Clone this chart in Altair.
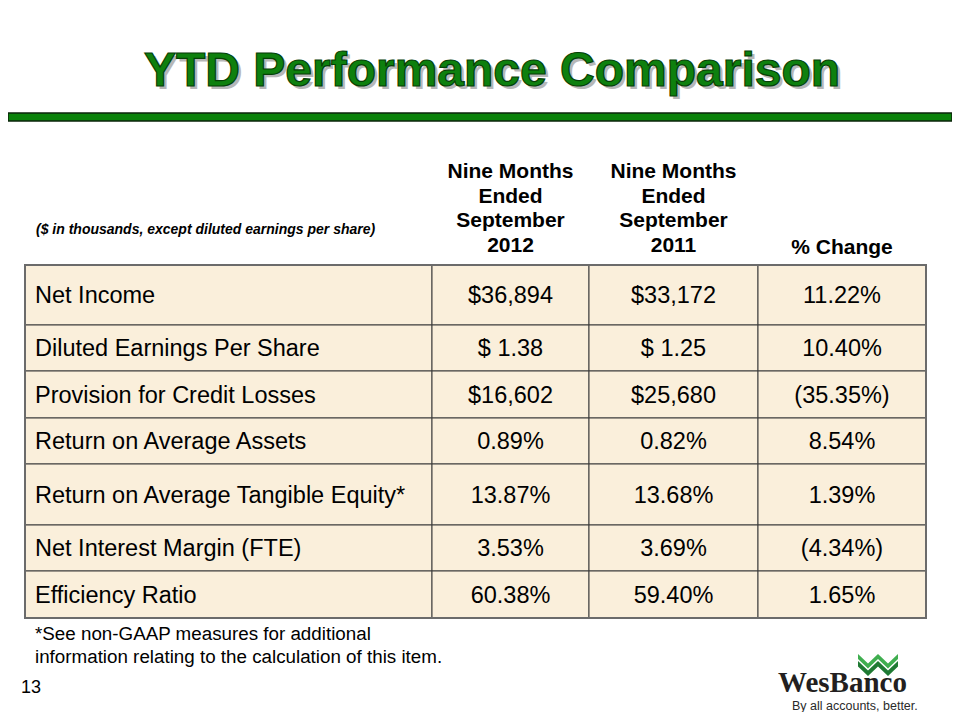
import altair as alt
import pandas as pd

# ---------------- data ----------------
row_labels = [
    "Net Income",
    "Diluted Earnings Per Share",
    "Provision for Credit Losses",
    "Return on Average Assets",
    "Return on Average Tangible Equity*",
    "Net Interest Margin (FTE)",
    "Efficiency Ratio",
]
sep_2012 = ["$36,894", "$ 1.38", "$16,602", "0.89%", "13.87%", "3.53%", "60.38%"]
sep_2011 = ["$33,172", "$ 1.25", "$25,680", "0.82%", "13.68%", "3.69%", "59.40%"]
pct_change = ["11.22%", "10.40%", "(35.35%)", "8.54%", "1.39%", "(4.34%)", "1.65%"]
column_headers = [
    "Nine Months\nEnded\nSeptember\n2012",
    "Nine Months\nEnded\nSeptember\n2011",
    "% Change",
]

title_text = "YTD Performance Comparison"
units_note = "($ in thousands, except diluted earnings per share)"
footnote = "*See non-GAAP measures for additional\ninformation relating to the calculation of this item."
page_number = "13"
logo_name = "WesBanco"
logo_tagline = "By all accounts, better."

# ---------------- layout (page pixel coordinates) ----------------
W, H, M = 960, 720, 8
col_edges = [25, 432, 589, 758, 926]
row_edges = [265, 325, 371, 418, 464, 525, 571, 618]
header_first_line_y = [172, 172, 248]

FONT = "Liberation Sans, Arial, Helvetica, sans-serif"
SERIF = "Liberation Serif, Times New Roman, serif"

xs = alt.Scale(domain=[M, W - M], nice=False, zero=False)
ys = alt.Scale(domain=[M, H - M], nice=False, zero=False, reverse=True)


def X(f):
    return alt.X(f, type="quantitative", scale=xs, axis=None)


def Y(f):
    return alt.Y(f, type="quantitative", scale=ys, axis=None)


# ---------------- tables ----------------
cells = []
for i, lab in enumerate(row_labels):
    vals = [lab, sep_2012[i], sep_2011[i], pct_change[i]]
    for j, v in enumerate(vals):
        cells.append(dict(
            x=col_edges[j], x2=col_edges[j + 1],
            y=row_edges[i], y2=row_edges[i + 1],
            xm=(col_edges[j] + col_edges[j + 1]) / 2,
            xl=col_edges[j] + 10,
            ym=(row_edges[i] + row_edges[i + 1]) / 2 + 1,
            text=v, col=j,
        ))
cells = pd.DataFrame(cells)

headers = pd.DataFrame(dict(
    text=column_headers,
    xm=[(col_edges[j] + col_edges[j + 1]) / 2 for j in range(1, 4)],
    ym=header_first_line_y,
))

border = pd.DataFrame([dict(x=col_edges[0], x2=col_edges[-1], y=row_edges[0], y2=row_edges[-1])])

base = alt.Chart(cells)

cell_rect = base.mark_rect(fill="#FAEFDB", stroke="#3a3a3a", strokeWidth=1).encode(
    x=X("x"), x2="x2", y=Y("y"), y2="y2")

outer = alt.Chart(border).mark_rect(fill=None, stroke="#6b6b6b", strokeWidth=2).encode(
    x=X("x"), x2="x2", y=Y("y"), y2="y2")

label_text = base.transform_filter("datum.col == 0").mark_text(
    font=FONT, fontSize=23.5, align="left", baseline="middle", color="#000").encode(
    x=X("xl"), y=Y("ym"), text="text:N")

value_text = base.transform_filter("datum.col > 0").mark_text(
    font=FONT, fontSize=23.5, align="center", baseline="middle", color="#000").encode(
    x=X("xm"), y=Y("ym"), text="text:N")

header_text = alt.Chart(headers).mark_text(
    font=FONT, fontSize=21, fontWeight="bold", align="center", baseline="middle",
    lineBreak="\n", lineHeight=24.5, color="#000").encode(
    x=X("xm"), y=Y("ym"), text="text:N")

# ---------------- annotations ----------------
units_df = pd.DataFrame([dict(x=36, y=230, text=units_note)])
units_layer = alt.Chart(units_df).mark_text(
    font=FONT, fontSize=14, fontWeight="bold", fontStyle="italic", align="left",
    baseline="middle", color="#000").encode(x=X("x"), y=Y("y"), text="text:N")

title_df = pd.DataFrame([dict(x=492, y=86, xs=495, ys=89, text=title_text)])
title_shadow = alt.Chart(title_df).mark_text(
    font=FONT, fontSize=48, fontWeight="bold", align="center", baseline="alphabetic",
    color="#9a9a9a", opacity=0.7).encode(x=X("xs"), y=Y("ys"), text="text:N")
title_main = alt.Chart(title_df).mark_text(
    font=FONT, fontSize=48, fontWeight="bold", align="center", baseline="alphabetic",
    fill="#0E800E", stroke="#064006", strokeWidth=1.2).encode(x=X("x"), y=Y("y"), text="text:N")

bar_df = pd.DataFrame([dict(x=M, x2=W - M, y=113, y2=121)])
green_bar = alt.Chart(bar_df).mark_rect(fill="#0A820A", stroke="#0b250b", strokeWidth=1.5).encode(
    x=X("x"), x2="x2", y=Y("y"), y2="y2")

foot_df = pd.DataFrame([dict(x=35, y=640, text=footnote)])
foot_layer = alt.Chart(foot_df).mark_text(
    font=FONT, fontSize=18.8, align="left", baseline="alphabetic", lineBreak="\n",
    lineHeight=23, color="#000").encode(x=X("x"), y=Y("y"), text="text:N")

page_df = pd.DataFrame([dict(x=21, y=693, text=page_number)])
page_layer = alt.Chart(page_df).mark_text(
    font=FONT, fontSize=18, align="left", baseline="alphabetic", color="#000").encode(
    x=X("x"), y=Y("y"), text="text:N")

logo_df = pd.DataFrame([dict(x=778, y=692, text=logo_name)])
logo_layer = alt.Chart(logo_df).mark_text(
    font=SERIF, fontSize=29, fontWeight="bold", align="left", baseline="alphabetic",
    color="#231F20").encode(x=X("x"), y=Y("y"), text="text:N")

tag_df = pd.DataFrame([dict(x=792, y=710, text=logo_tagline)])
tag_layer = alt.Chart(tag_df).mark_text(
    font=FONT, fontSize=12.5, align="left", baseline="alphabetic", color="#2a2a2a").encode(
    x=X("x"), y=Y("y"), text="text:N")

upper_w = ("M -1 -0.55 L -0.5 -0.08 L 0 -0.55 L 0.5 -0.08 L 1 -0.55 L 1 -0.3 "
           "L 0.5 0.17 L 0 -0.3 L -0.5 0.17 L -1 -0.3 Z")
lower_w = ("M -1 -0.2 L -0.5 0.28 L 0 -0.2 L 0.5 0.28 L 1 -0.2 L 1 0.07 "
           "L 0.5 0.55 L 0 0.07 L -0.5 0.55 L -1 0.07 Z")
chev_df = pd.DataFrame([dict(x=878, y=665)])
chev_upper = alt.Chart(chev_df).mark_point(
    shape=upper_w, filled=True, size=1600, color="#3FAE4F", opacity=1).encode(x=X("x"), y=Y("y"))
chev_lower = alt.Chart(chev_df).mark_point(
    shape=lower_w, filled=True, size=1600, color="#1F7A33", opacity=1).encode(x=X("x"), y=Y("y"))

chart = alt.layer(
    green_bar, title_shadow, title_main, units_layer,
    cell_rect, outer, label_text, value_text, header_text,
    foot_layer, page_layer, chev_lower, chev_upper, logo_layer, tag_layer,
).properties(
    width=W - 2 * M, height=H - 2 * M, padding=0,
    autosize=alt.AutoSizeParams(type="none"),
    background="#ffffff",
).configure_view(stroke=None)

chart.save("out.html", embed_options={"renderer": "svg", "actions": False})
